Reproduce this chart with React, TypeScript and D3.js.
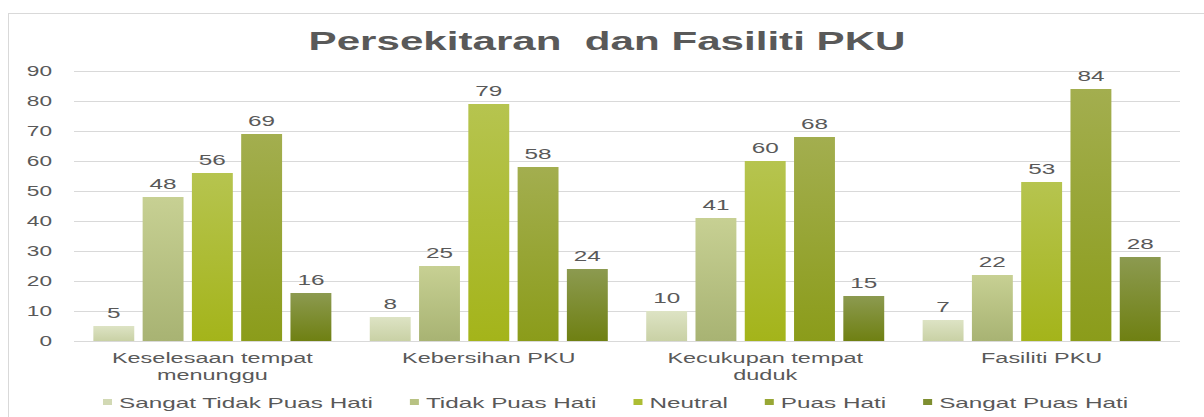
import React, { useRef, useEffect } from 'react';
import * as d3 from 'd3';

// Chart data.
const title = 'Persekitaran  dan Fasiliti PKU';
const categories = ['Keselesaan tempat menunggu', 'Kebersihan PKU', 'Kecukupan tempat duduk', 'Fasiliti PKU'];
const categoryLines = [['Keselesaan tempat', 'menunggu'], ['Kebersihan PKU'], ['Kecukupan tempat', 'duduk'], ['Fasiliti PKU']];
const seriesNames = ['Sangat Tidak Puas Hati', 'Tidak Puas Hati', 'Neutral', 'Puas Hati', 'Sangat Puas Hati'];
const sangatTidakPuas = [5, 8, 10, 7];
const tidakPuas = [48, 25, 41, 22];
const neutral = [56, 79, 60, 53];
const puas = [69, 58, 68, 84];
const sangatPuas = [16, 24, 15, 28];
const yTicks = [0, 10, 20, 30, 40, 50, 60, 70, 80, 90];

const seriesValues = [sangatTidakPuas, tidakPuas, neutral, puas, sangatPuas];

const App = () => {
  const ref = useRef<SVGSVGElement>(null);

  useEffect(() => {
    const svg = d3.select(ref.current);
    svg.selectAll('*').remove();

    const W = 1204;
    const H = 417;
    const SX = 1.62; // text in the reference is stretched horizontally
    const textColor = '#595959';
    const font = '"Liberation Sans", Arial, sans-serif';

    // gradients: top, bottom per series
    const grads = [
      ['#dde3c4', '#c9d1a5'],
      ['#c7d093', '#a8b373'],
      ['#b6c44f', '#a4b41a'],
      ['#a3ae4f', '#8b9c1a'],
      ['#8c9a50', '#6f8012'],
    ];
    const legendColors = ['#d2d9b4', '#b8c283', '#adbd34', '#98a735', '#7e8e30'];

    const defs = svg.append('defs');
    grads.forEach((g, i) => {
      const lg = defs.append('linearGradient')
        .attr('id', `grad${i}`)
        .attr('x1', 0).attr('y1', 0).attr('x2', 0).attr('y2', 1);
      lg.append('stop').attr('offset', '0%').attr('stop-color', g[0]);
      lg.append('stop').attr('offset', '100%').attr('stop-color', g[1]);
    });

    // background + border
    svg.append('rect').attr('width', W).attr('height', H).attr('fill', '#fff');
    svg.append('rect')
      .attr('x', 8.5).attr('y', 13.5)
      .attr('width', W + 20).attr('height', H + 20)
      .attr('fill', 'none')
      .attr('stroke', '#d9d9d9');

    const plotLeft = 74;
    const plotRight = 1180;

    const x0 = d3.scaleBand()
      .domain(categories)
      .range([plotLeft, plotRight])
      .paddingInner(0.139)
      .paddingOuter(0.07);

    const x1 = d3.scaleBand()
      .domain(seriesNames)
      .range([0, x0.bandwidth()])
      .paddingInner(0.17);

    const y = d3.scaleLinear().domain([0, 90]).range([341, 71]);

    const stretched = (g, x, yy, txt, size, anchor, weight = 'normal') =>
      g.append('text')
        .attr('transform', `translate(${x},${yy}) scale(${SX},1)`)
        .attr('text-anchor', anchor)
        .style('font-family', font)
        .style('font-size', `${size}px`)
        .style('font-weight', weight)
        .style('white-space', 'pre')
        .attr('fill', textColor)
        .text(txt);

    // gridlines
    svg.append('g')
      .selectAll('line')
      .data(yTicks)
      .join('line')
      .attr('x1', plotLeft).attr('x2', plotRight)
      .attr('y1', d => y(d) + 0.5).attr('y2', d => y(d) + 0.5)
      .attr('stroke', '#d9d9d9')
      .attr('stroke-width', 1);

    // y tick labels
    const yLab = svg.append('g');
    yTicks.forEach(t => stretched(yLab, 52, y(t) + 5, String(t), 14, 'end'));

    // bars
    const barsG = svg.append('g');
    seriesValues.forEach((vals, si) => {
      const s = seriesNames[si];
      barsG.append('g')
        .selectAll('rect')
        .data(vals)
        .join('rect')
        .attr('x', (d, i) => x0(categories[i]) + x1(s))
        .attr('width', x1.bandwidth())
        .attr('y', d => y(d))
        .attr('height', d => y(0) - y(d))
        .attr('fill', `url(#grad${si})`);
      vals.forEach((v, i) => {
        stretched(barsG, x0(categories[i]) + x1(s) + x1.bandwidth() / 2, y(v) - 8, String(v), 15, 'middle');
      });
    });

    // category labels
    const catG = svg.append('g');
    categories.forEach((c, i) => {
      const cx = x0(c) + x0.bandwidth() / 2;
      categoryLines[i].forEach((line, li) => {
        stretched(catG, cx, 363 + li * 17, line, 14.5, 'middle');
      });
    });

    // title
    stretched(svg, 607, 50, title, 26, 'middle', 'bold');

    // legend
    const legend = svg.append('g');
    let lx = 103;
    seriesNames.forEach((name, i) => {
      legend.append('rect')
        .attr('x', lx).attr('y', 399)
        .attr('width', 9).attr('height', 6)
        .attr('fill', legendColors[i]);
      const t = stretched(legend, lx + 16, 408, name, 15, 'start');
      const w = (t.node() as SVGTextElement).getComputedTextLength() * SX;
      lx += 16 + w + 37;
    });
  }, []);

  return (
    <svg
      ref={ref}
      width={1204}
      height={417}
      style={{ position: 'absolute', left: 0, top: 0 }}
    />
  );
};

export default App;
